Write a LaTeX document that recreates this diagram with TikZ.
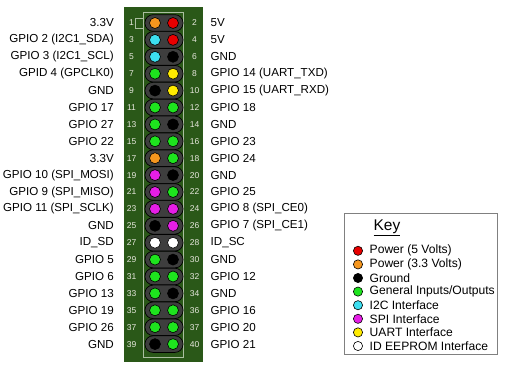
\documentclass[tikz,border=0pt]{standalone}
\usepackage{fontspec}
\setmainfont{Liberation Sans}
\usetikzlibrary{positioning}

\definecolor{board}{RGB}{42,88,24}
\definecolor{rim}{RGB}{170,190,160}
\definecolor{pill}{RGB}{62,62,62}
\definecolor{numtxt}{RGB}{232,232,222}
\definecolor{pfive}{RGB}{232,0,0}
\definecolor{pthree}{RGB}{245,150,30}
\definecolor{gnd}{RGB}{0,0,0}
\definecolor{gpio}{RGB}{30,228,30}
\definecolor{itwoc}{RGB}{60,222,240}
\definecolor{spi}{RGB}{230,30,230}
\definecolor{uart}{RGB}{255,235,0}
\definecolor{eeprom}{RGB}{255,255,255}

\tikzset{
  pinlbl/.style={font=\fontsize{11.6}{13}\selectfont, inner sep=0pt},
  pinnum/.style={font=\fontsize{8.5}{9}\selectfont, text=numtxt, inner sep=0pt},
  keylbl/.style={font=\fontsize{12.1}{13}\selectfont, inner sep=0pt, anchor=west},
  pindot/.style={draw=black, line width=0.6pt},
}

\begin{document}
\begin{tikzpicture}[x=1pt,y=-1pt]
	\useasboundingbox (0,0) rectangle (506,367);
	% board
	\fill[board] (124,7) rectangle (203,362);
	\draw[rim, line width=0.8pt] (143.5,12) rectangle (183.5,357);
	\draw[rim, line width=0.8pt] (135.5,18) rectangle (143.5,28);
%the header rows
	\foreach \r/\lc/\rc/\ln/\rn/\lt/\rt in {
		1/pthree/pfive/1/2/{3.3V}/{5V},
		2/itwoc/pfive/3/4/{GPIO 2 (I2C1\_SDA)}/{5V},
		3/itwoc/gnd/5/6/{GPIO 3 (I2C1\_SCL)}/{GND},
		4/gpio/uart/7/8/{GPID 4 (GPCLK0)}/{GPIO 14 (UART\_TXD)},
		5/gnd/uart/9/10/{GND}/{GPIO 15 (UART\_RXD)},
		6/gpio/gpio/11/12/{GPIO 17}/{GPIO 18},
		7/gpio/gnd/13/14/{GPIO 27}/{GND},
		8/gpio/gpio/15/16/{GPIO 22}/{GPIO 23},
		9/pthree/gpio/17/18/{3.3V}/{GPIO 24},
		10/spi/gnd/19/20/{GPIO 10 (SPI\_MOSI)}/{GND},
		11/spi/gpio/21/22/{GPIO 9 (SPI\_MISO)}/{GPIO 25},
		12/spi/spi/23/24/{GPIO 11 (SPI\_SCLK)}/{GPIO 8 (SPI\_CE0)},
		13/gnd/spi/25/26/{GND}/{GPIO 7 (SPI\_CE1)},
		14/eeprom/eeprom/27/28/{ID\_SD}/{ID\_SC},
		15/gpio/gnd/29/30/{GPIO 5}/{GND},
		16/gpio/gpio/31/32/{GPIO 6}/{GPIO 12},
		17/gpio/gnd/33/34/{GPIO 13}/{GND},
		18/gpio/gpio/35/36/{GPIO 19}/{GPIO 16},
		19/gpio/gpio/37/37/{GPIO 26}/{GPIO 20},
		20/gnd/gpio/39/40/{GND}/{GPIO 21}}
	{
		\pgfmathsetmacro\yy{23+(\r-1)*16.9}
		\draw[black, fill=pill, line width=0.7pt, rounded corners=8pt]
			(145,\yy-8.3) rectangle (183,\yy+8.3);
		\fill[\lc, pindot] (155,\yy) circle (5.5);
		\fill[\rc, pindot] (173,\yy) circle (5.5);
		\node[pinnum] (n\r a) at (131.5,\yy) {\ln};
		\node[pinnum] (n\r b) at (194.5,\yy) {\rn};
		\node[pinlbl, anchor=east] (l\r) at (114,\yy) {\lt};
		\node[pinlbl, anchor=west] (r\r) at (210.5,\yy) {\rt};
	}
	% key
	\draw[gray, fill=white, line width=0.7pt] (344,213) rectangle (497,354);
	\node[font=\fontsize{15.5}{17}\selectfont, inner sep=0pt] (keyttl) at (387,228) {\underline{Key}};
	\foreach \k/\kc/\kt in {
		0/pfive/{Power (5 Volts)},
		1/pthree/{Power (3.3 Volts)},
		2/gnd/{Ground},
		3/gpio/{General Inputs/Outputs},
		4/itwoc/{I2C Interface},
		5/spi/{SPI Interface},
		6/uart/{UART Interface},
		7/eeprom/{ID EEPROM Interface}}
	{
		\pgfmathsetmacro\ky{250.8+\k*13.6}
		\fill[\kc, pindot] (358,\ky) circle (4.6);
		\node[keylbl] (key\k) at (369.5,\ky) {\kt};
	}
\end{tikzpicture}
\end{document}
